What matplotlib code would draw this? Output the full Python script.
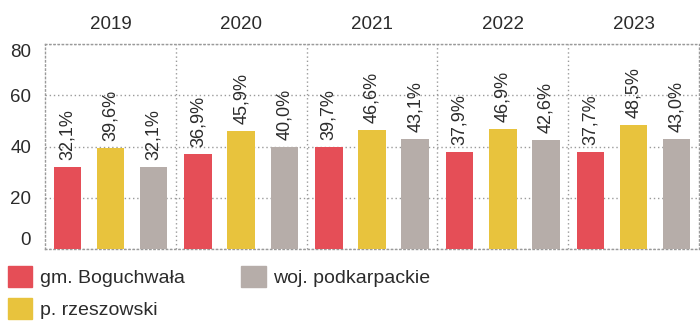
import matplotlib
matplotlib.use('Agg')
import matplotlib.pyplot as plt
import matplotlib.patches as patches
import numpy as np

plt.rcParams['font.family'] = ['Liberation Sans', 'DejaVu Sans']

years = ['2019', '2020', '2021', '2022', '2023']
series_names = ['gm. Boguchwała', 'p. rzeszowski', 'woj. podkarpackie']
val_gmina = [32.1, 36.9, 39.7, 37.9, 37.7]
val_powiat = [39.6, 45.9, 46.6, 46.9, 48.5]
val_woj = [32.1, 40.0, 43.1, 42.6, 43.0]
y_ticks = [0, 20, 40, 60, 80]

colors = ['#E54E57', '#E8C33D', '#B6ADA9']
text_col = '#2b2b2b'
grid_col = '#9a9a9a'

fig = plt.figure(figsize=(7, 3.24), dpi=100)
ax = fig.add_axes([45 / 700, 75 / 324, 654 / 700, 205 / 324])

x = np.arange(len(years))
offset = 0.33
width = 0.21

for k, vals in enumerate([val_gmina, val_powiat, val_woj]):
    pos = x + (k - 1) * offset
    ax.bar(pos, vals, width, color=colors[k], zorder=3, label=series_names[k])
    for xi, v in zip(pos, vals):
        ax.annotate(f'{v:.1f}'.replace('.', ',') + '%', xy=(xi, v), xytext=(0, 5),
                    textcoords='offset points', rotation=90, ha='center', va='bottom',
                    fontsize=13, color=text_col, zorder=4)

ax.set_xlim(-0.5, len(years) - 0.5)
ax.set_ylim(0, 80)

# dotted grid and frame
ax.set_yticks(y_ticks)
ax.yaxis.grid(True, linestyle=(0, (1, 2)), color=grid_col, linewidth=1)
for b in np.arange(0.5, len(years) - 0.5, 1):
    ax.axvline(b, linestyle=(0, (1, 2)), color=grid_col, linewidth=1, zorder=1)
ax.set_axisbelow(True)
for spine in ax.spines.values():
    spine.set_linestyle((0, (1, 2)))
    spine.set_color(grid_col)
    spine.set_linewidth(1)

ax.tick_params(axis='y', length=0, pad=10, labelsize=13.5, labelcolor=text_col)
for lab in ax.get_yticklabels():
    if lab.get_text() == '0':
        lab.set_va('bottom')
    elif lab.get_text() == '80':
        lab.set_va('top')

ax.xaxis.tick_top()
ax.set_xticks(x)
ax.set_xticklabels(years)
ax.tick_params(axis='x', length=0, pad=8, labelsize=13.5, labelcolor=text_col)

handles = [patches.Patch(color=c) for c in colors]
fig.legend(handles, series_names, loc='upper left', bbox_to_anchor=(8 / 700, (324 - 266) / 324),
           ncol=2, frameon=False, fontsize=14, handlelength=1.25, handleheight=1.25,
           handletextpad=0.4, labelspacing=0.6, columnspacing=2.9, borderpad=0,
           borderaxespad=0, labelcolor=text_col)

fig.savefig('out.png', dpi=100)
